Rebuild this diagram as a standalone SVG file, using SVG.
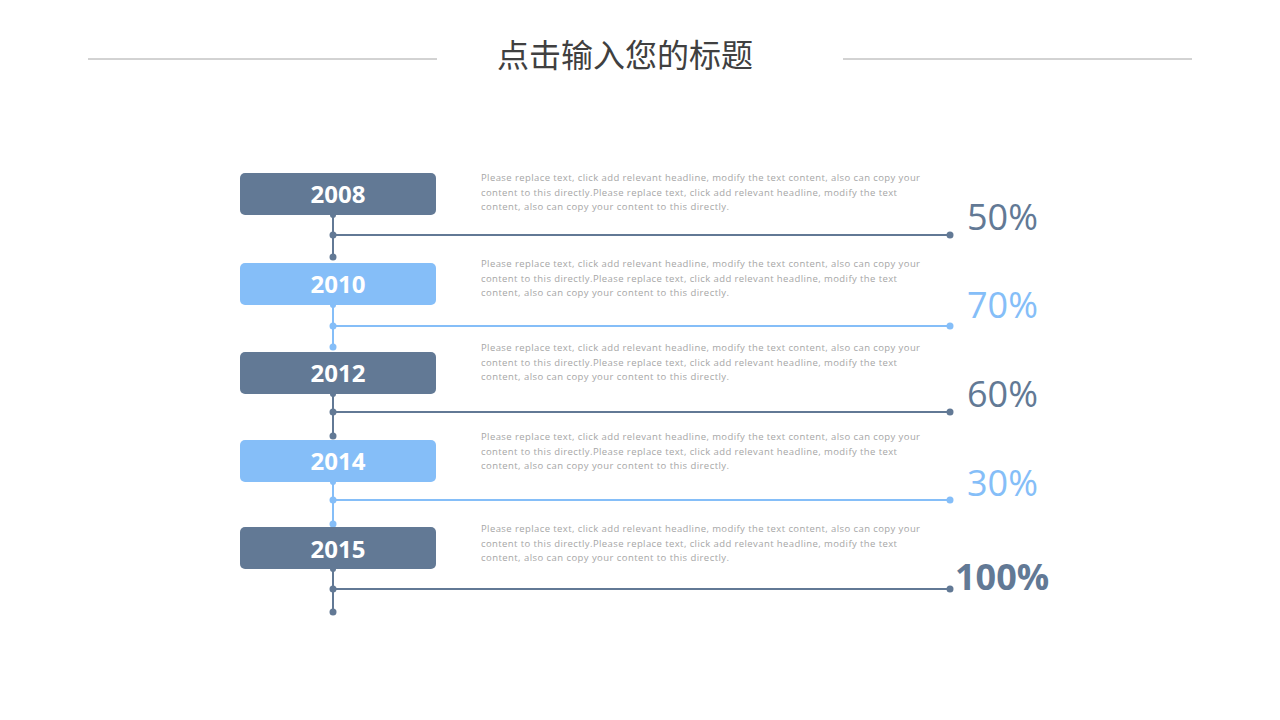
<svg xmlns="http://www.w3.org/2000/svg" width="1280" height="720" viewBox="0 0 1280 720">
<style>
.dk{fill:#627995}
.lt{fill:#85bef8}
.dks{stroke:#627995;stroke-width:2;fill:none}
.lts{stroke:#85bef8;stroke-width:2;fill:none}
.yr{font-family:"Open Sans","Liberation Sans",sans-serif;font-weight:bold;font-size:24px;fill:#fff;text-anchor:middle}
.desc{font-family:"Open Sans","Liberation Sans",sans-serif;font-size:9.5px;fill:#a6a6a6}
.pct{font-family:"Open Sans","Liberation Sans",sans-serif;font-size:36px}
.title{font-family:"Noto Sans CJK SC","Noto Sans",sans-serif;font-size:32px;fill:#404040;text-anchor:middle}
</style>
<rect width="1280" height="720" fill="#fff"/>
<g id="header">
<line x1="88" y1="59" x2="437" y2="59" stroke="#a6a6a6" stroke-width="1"/>
<line x1="843" y1="59" x2="1192" y2="59" stroke="#a6a6a6" stroke-width="1"/>
<text class="title" x="625" y="67">点击输入您的标题</text>
</g>
<g id="connectors">
<path class="dks" d="M333 215V257M333 235H950"/>
<path class="lts" d="M333 305V347M333 326H950"/>
<path class="dks" d="M333 394V436M333 412H950"/>
<path class="lts" d="M333 482V524M333 500H950"/>
<path class="dks" d="M333 569V612M333 589H950"/>
<g class="dk"><circle cx="333" cy="215" r="3"/><circle cx="333" cy="235" r="3.5"/><circle cx="333" cy="257" r="3.5"/><circle cx="950" cy="235" r="3.5"/></g>
<g class="lt"><circle cx="333" cy="305" r="3"/><circle cx="333" cy="326" r="3.5"/><circle cx="333" cy="347" r="3.5"/><circle cx="950" cy="326" r="3.5"/></g>
<g class="dk"><circle cx="333" cy="394" r="3"/><circle cx="333" cy="412" r="3.5"/><circle cx="333" cy="436" r="3.5"/><circle cx="950" cy="412" r="3.5"/></g>
<g class="lt"><circle cx="333" cy="482" r="3"/><circle cx="333" cy="500" r="3.5"/><circle cx="333" cy="524" r="3.5"/><circle cx="950" cy="500" r="3.5"/></g>
<g class="dk"><circle cx="333" cy="569" r="3"/><circle cx="333" cy="589" r="3.5"/><circle cx="333" cy="612" r="3.5"/><circle cx="950" cy="589" r="3.5"/></g>
</g>
<g id="n2008">
<rect class="dk" x="240" y="173" width="196" height="42" rx="5"/>
<text class="yr" x="338" y="203">2008</text>
<text class="desc" x="481" y="181" textLength="439">Please replace text, click add  relevant headline, modify  the text content, also can copy your</text>
<text class="desc" x="481" y="196" textLength="416">content to this directly.Please replace text, click add  relevant headline, modify  the text</text>
<text class="desc" x="481" y="210" textLength="248">content,  also can copy your  content to this directly.</text>
<text class="pct" x="967" y="230" fill="#627995">50%</text>
</g>
<g id="n2010">
<rect class="lt" x="240" y="263" width="196" height="42" rx="5"/>
<text class="yr" x="338" y="293">2010</text>
<text class="desc" x="481" y="267" textLength="439">Please replace text, click add  relevant headline, modify  the text content, also can copy your</text>
<text class="desc" x="481" y="282" textLength="416">content to this directly.Please replace text, click add  relevant headline, modify  the text</text>
<text class="desc" x="481" y="296" textLength="248">content,  also can copy your  content to this directly.</text>
<text class="pct" x="967" y="318" fill="#85bef8">70%</text>
</g>
<g id="n2012">
<rect class="dk" x="240" y="352" width="196" height="42" rx="5"/>
<text class="yr" x="338" y="382">2012</text>
<text class="desc" x="481" y="351" textLength="439">Please replace text, click add  relevant headline, modify  the text content, also can copy your</text>
<text class="desc" x="481" y="366" textLength="416">content to this directly.Please replace text, click add  relevant headline, modify  the text</text>
<text class="desc" x="481" y="380" textLength="248">content,  also can copy your  content to this directly.</text>
<text class="pct" x="967" y="407" fill="#627995">60%</text>
</g>
<g id="n2014">
<rect class="lt" x="240" y="440" width="196" height="42" rx="5"/>
<text class="yr" x="338" y="470">2014</text>
<text class="desc" x="481" y="440" textLength="439">Please replace text, click add  relevant headline, modify  the text content, also can copy your</text>
<text class="desc" x="481" y="455" textLength="416">content to this directly.Please replace text, click add  relevant headline, modify  the text</text>
<text class="desc" x="481" y="469" textLength="248">content,  also can copy your  content to this directly.</text>
<text class="pct" x="967" y="496" fill="#85bef8">30%</text>
</g>
<g id="n2015">
<rect class="dk" x="240" y="527" width="196" height="42" rx="5"/>
<text class="yr" x="338" y="558">2015</text>
<text class="desc" x="481" y="532" textLength="439">Please replace text, click add  relevant headline, modify  the text content, also can copy your</text>
<text class="desc" x="481" y="547" textLength="416">content to this directly.Please replace text, click add  relevant headline, modify  the text</text>
<text class="desc" x="481" y="561" textLength="248">content,  also can copy your  content to this directly.</text>
<text class="pct" x="955" y="590" fill="#627995" font-weight="bold">100%</text>
</g>
</svg>
